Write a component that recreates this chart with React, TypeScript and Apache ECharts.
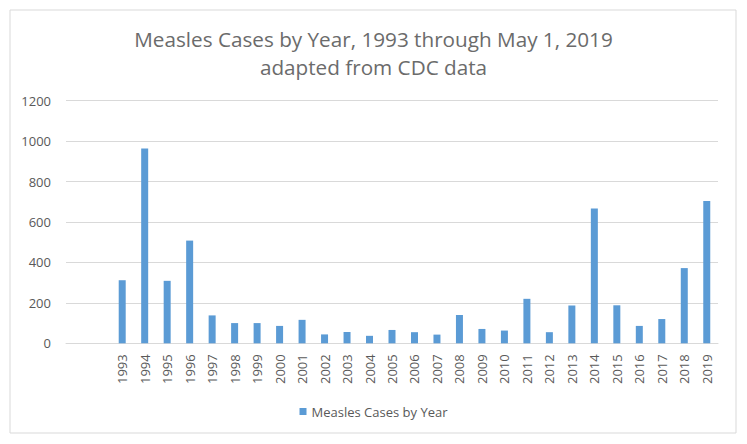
import React, { useEffect, useRef } from "react";
import * as echarts from "echarts";

const years = [
  "1993", "1994", "1995", "1996", "1997", "1998", "1999", "2000", "2001",
  "2002", "2003", "2004", "2005", "2006", "2007", "2008", "2009", "2010",
  "2011", "2012", "2013", "2014", "2015", "2016", "2017", "2018", "2019",
];
const cases = [
  312, 963, 309, 508, 138, 100, 100, 86, 116,
  44, 56, 37, 66, 55, 43, 140, 71, 63,
  220, 55, 187, 667, 188, 86, 120, 372, 704,
];
const leadingBlanks = ["", ""];
const yTicks = { min: 0, max: 1200, interval: 200 };
const seriesName = "Measles Cases by Year";
const titleLines = ["Measles Cases by Year, 1993 through May 1, 2019", "adapted from CDC data"];

const FONT = "Open Sans";
const GRAY = "#595959";

export default function App() {
  const ref = useRef<HTMLDivElement>(null);
  useEffect(() => {
    if (!ref.current) return;
    const chart = echarts.init(ref.current, undefined, { renderer: "svg" });
    const categories = [...leadingBlanks, ...years];
    const data = [...leadingBlanks.map(() => "-"), ...cases];
    chart.setOption({
      animation: false,
      backgroundColor: "#ffffff",
      textStyle: { fontFamily: FONT },
      graphic: [
        {
          type: "rect",
          shape: { x: 10, y: 10, width: 726, height: 423 },
          style: { fill: "none", stroke: "#d9d9d9", lineWidth: 1 },
          silent: true,
        },
      ],
      title: {
        text: titleLines.join("\n"),
        left: "center",
        top: 20,
        textStyle: {
          fontFamily: FONT,
          fontWeight: "normal",
          fontSize: 20.7,
          lineHeight: 28,
          color: "#6b6b6b",
        },
      },
      legend: {
        show: true,
        left: "center",
        top: 400,
        itemWidth: 7,
        itemHeight: 7,
        itemGap: 10,
        icon: "rect",
        textStyle: { fontFamily: FONT, fontSize: 13, color: GRAY },
        data: [seriesName],
      },
      grid: {
        left: 66,
        right: 29,
        top: 100.7,
        bottom: 100.7,
        containLabel: false,
        outerBoundsMode: "none",
      },
      xAxis: {
        type: "category",
        data: categories,
        boundaryGap: true,
        axisTick: { show: false },
        axisLine: { lineStyle: { color: "#d9d9d9" } },
        axisLabel: {
          interval: 0,
          rotate: 90,
          margin: 11,
          color: GRAY,
          fontFamily: FONT,
          fontSize: 13,
        },
      },
      yAxis: {
        type: "value",
        min: yTicks.min,
        max: yTicks.max,
        interval: yTicks.interval,
        axisLine: { show: false },
        axisTick: { show: false },
        splitLine: { lineStyle: { color: "#d9d9d9" } },
        axisLabel: {
          margin: 15,
          color: GRAY,
          fontFamily: FONT,
          fontSize: 13,
          formatter: (v: number) => String(v),
        },
      },
      series: [
        {
          name: seriesName,
          type: "bar",
          data,
          barWidth: 7,
          itemStyle: { color: "#5B9BD5" },
        },
      ],
    });
    return () => chart.dispose();
  }, []);
  return (
    <div
      ref={ref}
      style={{ position: "absolute", left: 0, top: 0, width: 747, height: 444 }}
    />
  );
}
